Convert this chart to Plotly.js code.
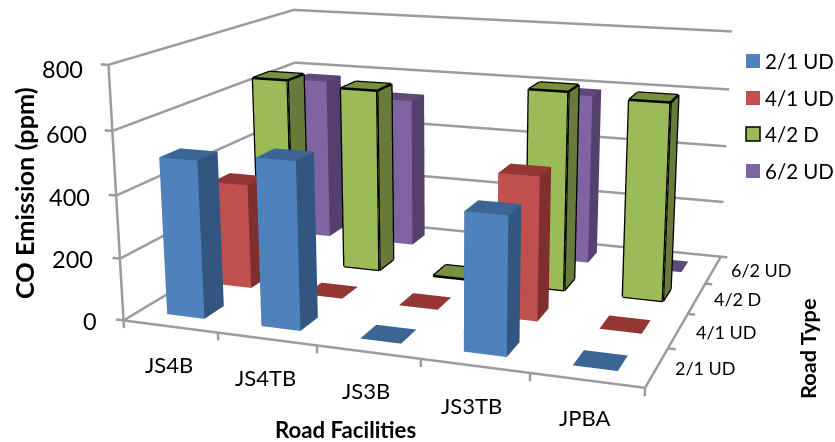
<!DOCTYPE html>
<html>
<head>
<meta charset="utf-8">
<script src="https://cdn.plot.ly/plotly-3.0.1.min.js"></script>
<style>
html,body{margin:0;padding:0;width:835px;height:442px;overflow:hidden;background:#fff}
#chart{position:absolute;left:-2px;top:-420px;width:900px;height:1215px}
</style>
</head>
<body>
<div id="chart"></div>
<script>
// CO emission by road facility and road type, as a 3D column chart.
var facilities = ['JS4B', 'JS4TB', 'JS3B', 'JS3TB', 'JPBA'];
var roadTypes = ['2/1 UD', '4/1 UD', '4/2 D', '6/2 UD'];
var emission21UD = [505, 530, 0, 425, 0];
var emission41UD = [350, 0, 0, 462, 0];
var emission42D = [640, 625, 0, 663, 650];
var emission62UD = [580, 530, 0, 590, 0];
var zTicks = [0, 200, 400, 600, 800];
var xTicks = [0, 1, 2, 3, 4, 5];
var yTicks = [1, 2, 3, 4];

var seriesValues = [emission21UD, emission41UD, emission42D, emission62UD];
var frontColors = ['#4F81BD', '#C0504D', '#9BBB59', '#8064A2'];
var sideColors = ['#325680', '#7F2F2D', '#677B3A', '#543F6E'];
var topColors = ['#3A6595', '#933634', '#76923C', '#5F497A'];
var outlined = [false, false, true, false];

var barWidth = 0.4, barDepth = 0.4;
var W = 900, H = 1215, offX = 2, offY = 420;

function columnMesh(values, row, front, side, top) {
  var m = {type: 'mesh3d', x: [], y: [], z: [], i: [], j: [], k: [], facecolor: [],
    flatshading: true, hoverinfo: 'skip', showscale: false,
    lighting: {ambient: 1, diffuse: 0, specular: 0, roughness: 1, fresnel: 0}};
  function quad(a, b, c, d, col) {
    m.i.push(a, a); m.j.push(b, c); m.k.push(c, d); m.facecolor.push(col, col);
  }
  values.forEach(function (v, c) {
    var n = m.x.length;
    var x0 = c + 0.5 - barWidth / 2, x1 = c + 0.5 + barWidth / 2;
    var y0 = row + 0.5 - barDepth / 2, y1 = row + 0.5 + barDepth / 2;
    [[x0,y0,0],[x1,y0,0],[x1,y1,0],[x0,y1,0],[x0,y0,v],[x1,y0,v],[x1,y1,v],[x0,y1,v]].forEach(function (p) {
      m.x.push(p[0]); m.y.push(p[1]); m.z.push(p[2]);
    });
    if (v > 0) {
      quad(n, n+1, n+5, n+4, front);
      quad(n+1, n+2, n+6, n+5, side);
      quad(n+3, n, n+4, n+7, side);
      quad(n+2, n+3, n+7, n+6, side);
    }
    quad(n+4, n+5, n+6, n+7, top);
  });
  return m;
}

function lineTrace(segments, color, width) {
  var xs = [], ys = [], zs = [];
  segments.forEach(function (s) {
    xs.push(s[0][0], s[1][0], null); ys.push(s[0][1], s[1][1], null); zs.push(s[0][2], s[1][2], null);
  });
  return {type: 'scatter3d', mode: 'lines', x: xs, y: ys, z: zs, connectgaps: false,
    line: {color: color, width: width}, hoverinfo: 'skip', showlegend: false};
}

function columnEdges(values, row) {
  var segs = [];
  values.forEach(function (v, c) {
    var x0 = c + 0.5 - barWidth / 2, x1 = c + 0.5 + barWidth / 2;
    var y0 = row + 0.5 - barDepth / 2, y1 = row + 0.5 + barDepth / 2;
    var corners = [[x0,y0],[x1,y0],[x1,y1],[x0,y1]];
    corners.forEach(function (p, i) {
      var q = corners[(i + 1) % 4];
      segs.push([[p[0],p[1],v],[q[0],q[1],v]]);
      if (v > 0) {
        segs.push([[p[0],p[1],0],[q[0],q[1],0]]);
        segs.push([[p[0],p[1],0],[p[0],p[1],v]]);
      }
    });
  });
  return lineTrace(segs, '#000000', 5);
}

// Walls, floor edges and tick marks of the chart frame.
var xMax = xTicks[xTicks.length - 1], yMax = yTicks[yTicks.length - 1], zMax = zTicks[zTicks.length - 1];
var frame = [];
zTicks.forEach(function (t) {
  frame.push([[0, 0, t], [0, yMax, t]]);
  frame.push([[0, yMax, t], [xMax, yMax, t]]);
  frame.push([[-0.08, 0, t], [0, 0, t]]);
});
frame.push([[0, 0, 0], [0, 0, zMax]]);
frame.push([[0, 0, 0], [xMax, 0, 0]]);
frame.push([[xMax, 0, 0], [xMax, yMax, 0]]);
xTicks.forEach(function (t) { frame.push([[t, 0, 0], [t, 0, -25]]); });
yTicks.forEach(function (t) { frame.push([[xMax, t, 0], [xMax + 0.07, t, 0]]); });

var traces = [lineTrace(frame, '#9C9C9C', 5)];
seriesValues.forEach(function (vals, r) {
  traces.push(columnMesh(vals, r, frontColors[r], sideColors[r], topColors[r]));
  if (outlined[r]) traces.push(columnEdges(vals, r));
});

function px(x) { return (x + offX) / W; }
function py(y) { return 1 - (y + offY) / H; }
function label(text, x, y, size, opts) {
  var a = {text: text, x: px(x), y: py(y), xref: 'paper', yref: 'paper', showarrow: false,
    xanchor: 'center', yanchor: 'middle', font: {family: 'Lato, sans-serif', size: size, color: '#000'}};
  return Object.assign(a, opts || {});
}

var annotations = [];
var zLabelPos = [[99,321],[95,259],[92,197],[89,134],[85,69]];
zTicks.forEach(function (t, i) {
  annotations.push(label(String(t), zLabelPos[i][0], zLabelPos[i][1], 23.5, {xanchor: 'right'}));
});
var xLabelPos = [[169,364],[265,377],[366,390],[472,405],[585,418]];
facilities.forEach(function (f, i) {
  annotations.push(label(f, xLabelPos[i][0], xLabelPos[i][1], 22));
});
var yLabelPos = [[705,368],[726,332],[737,299],[761,270]];
roadTypes.forEach(function (t, i) {
  annotations.push(label(t, yLabelPos[i][0], yLabelPos[i][1], 18));
});
annotations.push(label('<b>CO Emission (ppm)</b>', 24, 193, 25.3, {textangle: -90}));
annotations.push(label('<b>Road Facilities</b>', 345, 429, 22.2));
annotations.push(label('<b>Road Type</b>', 807, 349, 21.8, {textangle: -90}));

var legendY = [61, 98, 134, 171];
var shapes = [];
roadTypes.forEach(function (t, i) {
  annotations.push(label(t, 763, legendY[i], 20.5, {xanchor: 'left'}));
  shapes.push({type: 'rect', xref: 'paper', yref: 'paper',
    x0: px(746), x1: px(760), y0: py(legendY[i] - 7), y1: py(legendY[i] + 7),
    fillcolor: frontColors[i],
    line: outlined[i] ? {color: '#000', width: 1.5} : {width: 0}});
});

var axisBase = {showbackground: false, showspikes: false, zeroline: false, title: {text: ''},
  showticklabels: false, showline: false, ticks: '', showgrid: false};

// The x and z ranges carry symmetric padding so tick marks outside the frame stay in the scene.
var xPad = 0.1, zPad = 30;
var layout = {
  width: W, height: H, margin: {l: 0, r: 0, t: 0, b: 0}, paper_bgcolor: '#fff', showlegend: false,
  annotations: annotations, shapes: shapes,
  scene: {
    domain: {x: [0, 1], y: [0, 1]},
    aspectmode: 'manual',
    aspectratio: {x: 1.082 * (xMax + 2 * xPad) / xMax, y: 0.846, z: 0.529 * (zMax + 2 * zPad) / zMax},
    camera: {eye: {x: 1.027, y: -2.878, z: 0.7545}, center: {x: 0.0144, y: -0.0009, z: -0.039},
      up: {x: 0, y: 0, z: 1}, projection: {type: 'perspective'}},
    xaxis: Object.assign({}, axisBase, {range: [-xPad, xMax + xPad]}),
    yaxis: Object.assign({}, axisBase, {range: [0, yMax]}),
    zaxis: Object.assign({}, axisBase, {range: [-zPad, zMax + zPad]})
  }
};
Plotly.newPlot('chart', traces, layout, {displayModeBar: false});
</script>
</body>
</html>
